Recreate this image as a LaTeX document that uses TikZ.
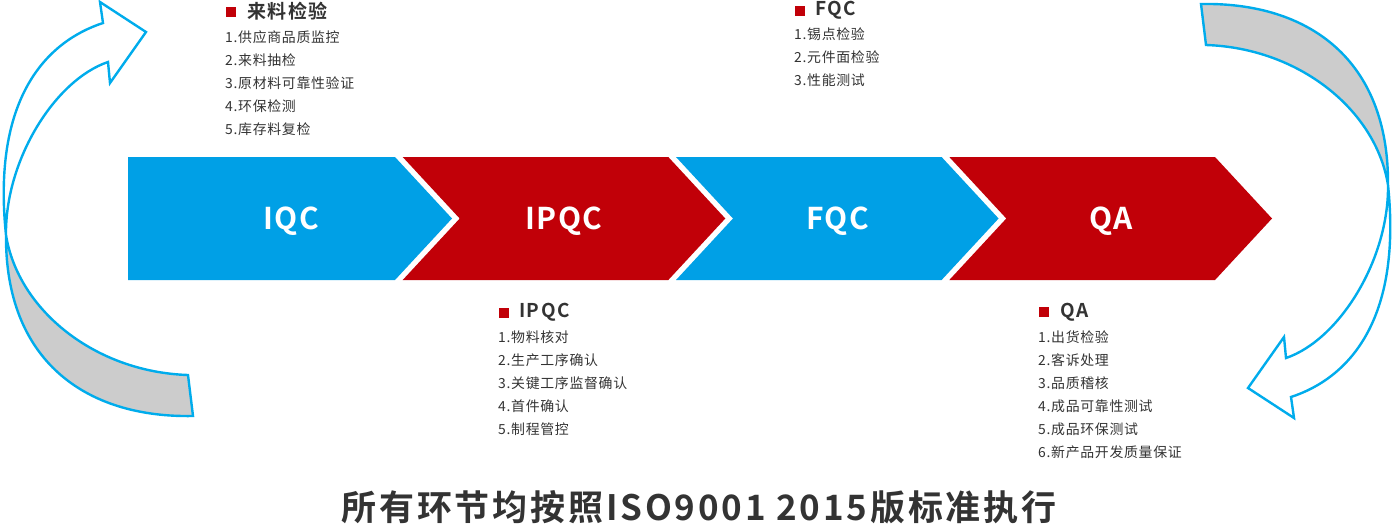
\documentclass[tikz,border=0pt]{standalone}
\usepackage{fontspec}
\setmainfont{Noto Sans CJK SC}[BoldFont={Noto Sans CJK SC Bold}]
\definecolor{cblue}{RGB}{0,160,230}
\definecolor{cred}{RGB}{193,0,8}
\definecolor{rline}{RGB}{0,172,236}
\definecolor{rgray}{RGB}{204,204,204}
\definecolor{tgray}{RGB}{51,51,51}
\newcommand{\myribbon}{%
  \draw[ribline, fill=rgray] (6,235) .. controls (5,360) and (85,418) .. (193,416) -- (188,375) .. controls (95,372) and (18,310) .. (6,235) -- cycle;
  \draw[ribline, fill=white] (6,235) .. controls (-8,100) and (45,42) .. (103,23) -- (100,2) -- (146,32) -- (110,83) -- (108,62) .. controls (55,80) and (5,160) .. (6,235) -- cycle;
}
\begin{document}
\begin{tikzpicture}[x=1pt,y=-1pt,
  ribline/.style={draw=rline, line width=2.4pt, line join=miter},
  item/.style={anchor=base west, inner sep=0pt, text=tgray, font=\fontsize{13.9}{16}\selectfont\addfontfeature{LetterSpace=5}},
  head/.style={anchor=base west, inner sep=0pt, text=tgray, font=\fontsize{19}{22}\selectfont\bfseries\addfontfeature{LetterSpace=8}},
  redsq/.style={fill=cred},
  chevtext/.style={anchor=base, inner sep=0pt, text=white, font=\fontsize{30}{34}\selectfont\bfseries\addfontfeature{LetterSpace=5}},
  titletext/.style={anchor=base, inner sep=0pt, text=tgray, font=\fontsize{35}{40}\selectfont\bfseries\addfontfeature{LetterSpace=8}}
]
\useasboundingbox (0,0) rectangle (1396,525);

% curved ribbon arrows
\myribbon
\begin{scope}[rotate around={180:(697,210)}]
\myribbon
\end{scope}

% chevrons
\fill[cblue] (128,157) -- (395,157) -- (452,218.5) -- (395,280) -- (128,280) -- cycle;
\fill[cred] (402.7,157) -- (668.3,157) -- (725.3,218.5) -- (668.3,280) -- (402.7,280) -- (459.7,218.5) -- cycle;
\fill[cblue] (676,157) -- (941.6,157) -- (998.6,218.5) -- (941.6,280) -- (676,280) -- (733,218.5) -- cycle;
\fill[cred] (949.3,157) -- (1215,157) -- (1272,218.5) -- (1215,280) -- (949.3,280) -- (1006.3,218.5) -- cycle;

\node[chevtext] (tiqc) at (291,229) {IQC};
\node[chevtext] (tipqc) at (564,229) {IPQC};
\node[chevtext] (tfqc) at (837.5,229) {FQC};
\node[chevtext] (tqa) at (1111,229) {QA};

% IQC block
\fill[redsq] (226,7) rectangle (236,17);
\node[head] (h1) at (247,18.2) {来料检验};
\node[item] (a1) at (225,42.8) {1.供应商品质监控};
\node[item] (a2) at (225,65.8) {2.来料抽检};
\node[item] (a3) at (225,88.8) {3.原材料可靠性验证};
\node[item] (a4) at (225,111.8) {4.环保检测};
\node[item] (a5) at (225,134.8) {5.库存料复检};

% FQC block
\fill[redsq] (795,6) rectangle (805,16);
\node[head] (h3) at (815,15.5) {FQC};
\node[item] (c1) at (794,39.4) {1.锡点检验};
\node[item] (c2) at (794,62.4) {2.元件面检验};
\node[item] (c3) at (794,85.4) {3.性能测试};

% IPQC block
\fill[redsq] (499,308) rectangle (509,318);
\node[head] (h2) at (519,317) {IPQC};
\node[item] (b1) at (498,342.8) {1.物料核对};
\node[item] (b2) at (498,365.8) {2.生产工序确认};
\node[item] (b3) at (498,388.8) {3.关键工序监督确认};
\node[item] (b4) at (498,411.8) {4.首件确认};
\node[item] (b5) at (498,434.8) {5.制程管控};

% QA block
\fill[redsq] (1039,307) rectangle (1049,317);
\node[head] (h4) at (1060,317) {QA};
\node[item] (d1) at (1038,342.8) {1.出货检验};
\node[item] (d2) at (1038,365.8) {2.客诉处理};
\node[item] (d3) at (1038,388.8) {3.品质稽核};
\node[item] (d4) at (1038,411.8) {4.成品可靠性测试};
\node[item] (d5) at (1038,434.8) {5.成品环保测试};
\node[item] (d6) at (1038,457.8) {6.新产品开发质量保证};

% bottom title
\node[titletext] (title) at (699,520.3) {所有环节均按照ISO9001 2015版标准执行};
\end{tikzpicture}
\end{document}
